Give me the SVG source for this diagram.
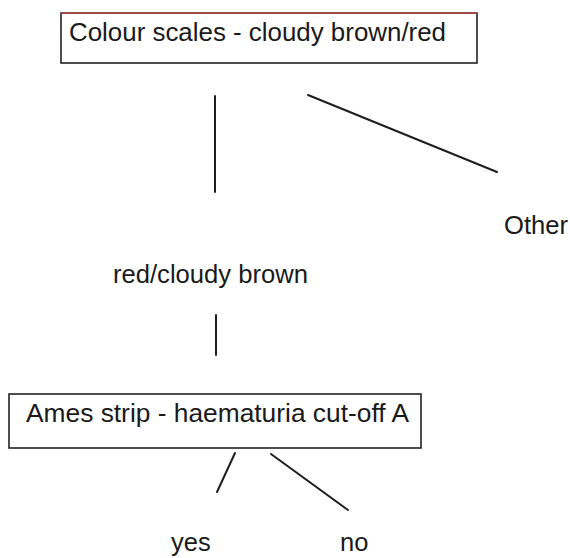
<svg xmlns="http://www.w3.org/2000/svg" width="570" height="558" viewBox="0 0 570 558">
  <style>
    .box { fill: #ffffff; stroke: #222222; stroke-width: 1.6; }
    .lbl { font-family: "Liberation Sans", Arial, sans-serif; font-size: 25.5px; fill: #1a1a1a; }
    .conn line { stroke: #1e1e1e; stroke-width: 2; stroke-linecap: round; }
  </style>
  <rect width="570" height="558" fill="#ffffff"/>
  <g id="node-colour-scales">
    <rect class="box" x="61" y="13" width="416" height="50"/>
    <line x1="61" y1="13" x2="477" y2="13" stroke="#b84a4a" stroke-width="1.4"/>
    <text class="lbl" x="69" y="41" textLength="377" lengthAdjust="spacingAndGlyphs">Colour scales - cloudy brown/red</text>
  </g>
  <g id="node-other">
    <text class="lbl" x="504" y="234" textLength="64" lengthAdjust="spacingAndGlyphs">Other</text>
  </g>
  <g id="node-red-cloudy-brown">
    <text class="lbl" x="113" y="283" textLength="195" lengthAdjust="spacingAndGlyphs">red/cloudy brown</text>
  </g>
  <g id="node-ames-strip">
    <rect class="box" x="9" y="394" width="412" height="54"/>
    <text class="lbl" x="26" y="422" textLength="383" lengthAdjust="spacingAndGlyphs">Ames strip - haematuria cut-off A</text>
  </g>
  <g id="node-yes">
    <text class="lbl" x="171" y="551">yes</text>
  </g>
  <g id="node-no">
    <text class="lbl" x="340" y="551">no</text>
  </g>
  <g id="connectors" class="conn">
    <line x1="215" y1="96" x2="215" y2="192"/>
    <line x1="308" y1="95" x2="497" y2="172"/>
    <line x1="216" y1="315" x2="216" y2="355"/>
    <line x1="235" y1="453" x2="217" y2="492"/>
    <line x1="271" y1="454" x2="348" y2="510"/>
  </g>
</svg>
